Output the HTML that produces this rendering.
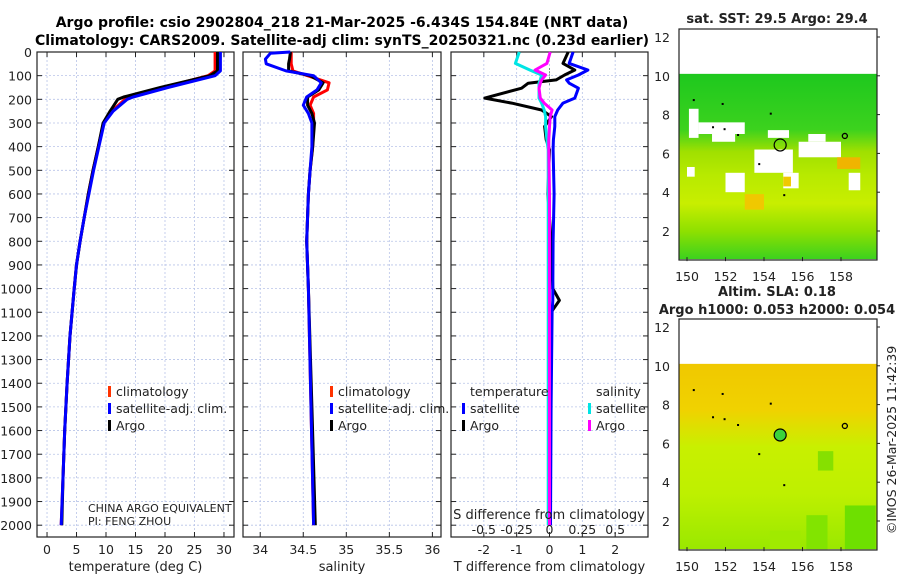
<!DOCTYPE html>
<html><head><meta charset="utf-8"><style>
html,body{margin:0;padding:0;background:#fff}
svg{display:block;font-family:"DejaVu Sans","Liberation Sans",sans-serif}
</style></head><body>
<svg id="fig" width="900" height="580" viewBox="0 0 900 580" xmlns="http://www.w3.org/2000/svg">
<text x="342" y="27" text-anchor="middle" font-size="14" font-weight="bold">Argo profile: csio 2902804_218 21-Mar-2025 -6.434S 154.84E (NRT data)</text>
<text x="342" y="45" text-anchor="middle" font-size="14" font-weight="bold">Climatology: CARS2009. Satellite-adj clim: synTS_20250321.nc (0.23d earlier)</text>
<g id="layer"></g>
</svg>
<script>
// ---- data ----
const tDepth=[0,80,100,150,190,200,250,300,400,500,600,700,800,900,1000,1200,1400,1600,1800,2000];
const argoT=[28.9,28.9,27.6,19.2,13.0,12.0,10.7,9.5,8.7,7.8,7.0,6.3,5.6,5.0,4.6,3.9,3.4,3.0,2.7,2.5];
const climT=[28.5,28.5,27.3,19.8,14.0,13.2,11.0,9.6,8.7,7.8,7.0,6.3,5.6,5.0,4.6,3.9,3.4,3.0,2.7,2.4];
const satT=[29.4,29.4,28.5,20.5,14.6,13.6,11.2,9.7,8.8,7.9,7.1,6.3,5.6,5.0,4.6,3.9,3.4,3.0,2.7,2.4];
const sDepth=[0,5,30,50,80,100,130,160,190,225,260,300,400,500,600,800,1000,1500,2000];
const argoS=[34.35,34.35,34.34,34.33,34.33,34.58,34.73,34.68,34.55,34.55,34.60,34.63,34.61,34.58,34.56,34.54,34.56,34.60,34.64];
const climS=[34.36,34.36,34.36,34.36,34.38,34.55,34.80,34.78,34.62,34.58,34.62,34.62,34.61,34.58,34.56,34.54,34.56,34.59,34.62];
const satS=[34.35,34.12,34.06,34.07,34.30,34.62,34.71,34.66,34.54,34.50,34.56,34.60,34.60,34.58,34.56,34.54,34.56,34.59,34.62];
const dDepth=[0,48,76,97,118,132,153,195,216,245,273,315,371,413,600,800,1000,1050,1100,1500,2000];
const dTargo=[0.57,0.41,0.77,0.46,0.2,-0.65,-0.85,-1.97,-1.15,-0.24,0.06,-0.15,-0.1,0,-0.05,0.05,0.1,0.3,0.05,0.02,0.0];
const dTsat=[0.72,0.6,1.17,0.88,0.52,0.6,0.88,0.77,0.41,0.25,0.16,0.16,0.12,0.11,0.14,0.11,0.1,0.1,0.08,0.05,0.03];
const dSsat=[-0.23,-0.26,-0.15,-0.06,-0.07,-0.08,-0.08,-0.08,-0.06,-0.04,-0.03,-0.03,-0.02,-0.01,-0.01,-0.01,-0.01,-0.01,-0.01,-0.01,-0.01];
const dSargo=[0.005,-0.02,-0.11,-0.03,-0.06,-0.07,-0.08,-0.07,-0.04,0.02,0.005,0,-0.005,-0.005,0,0,0,0,0,0,0];
const depthTicks=[0,100,200,300,400,500,600,700,800,900,1000,1100,1200,1300,1400,1500,1600,1700,1800,1900,2000];
const tTicks=[0,5,10,15,20,25,30];
const sTicks=[34,34.5,35,35.5,36];
const sTickLabels=["34","34.5","35","35.5","36"];
const dTTicks=[-2,-1,0,1,2];
const dSTicks=[-0.5,-0.25,0,0.25,0.5];
const dSTickLabels=["-0.5","-0.25","0","0.25","0.5"];
const lonTicks=[150,152,154,156,158];
const latTicks=[2,4,6,8,10,12];

const NS="http://www.w3.org/2000/svg";
const L=document.getElementById('layer');
function mk(tag,attrs,parent){const e=document.createElementNS(NS,tag);for(const k in attrs)e.setAttribute(k,attrs[k]);(parent||L).appendChild(e);return e;}
function txt(x,y,s,size,anchor,parent){const e=mk('text',{x:x,y:y,'font-size':size,'text-anchor':anchor||'middle',fill:'#222'},parent);e.textContent=s;return e;}

const TOP=52,BOT=537;
const yD=d=>TOP+d*0.2366;
function lin(d0,d1,r0,r1){return v=>r0+(v-d0)*(r1-r0)/(d1-d0);}
const xT=lin(-1.7,31.7,37,234);
const xS=lin(33.8,36.1,243,441);
const xDT=lin(-3,3,451,648);
const xDS=lin(-0.75,0.75,451,648);

function panel(x0,x1,name,ticks,fx,labels,xlabel){
  const g=mk('g',{});
  
  
  for(const d of depthTicks){const l=mk('line',{x1:x0,x2:x1,y1:yD(d),y2:yD(d),stroke:'#b8c4e8','stroke-width':0.8,'stroke-dasharray':'2,2'},g);}
  ticks.forEach((t,i)=>{
    const x=fx(t);
    mk('line',{x1:x,x2:x,y1:TOP,y2:BOT,stroke:'#b8c4e8','stroke-width':0.8,'stroke-dasharray':'2,2'},g);
    mk('line',{x1:x,x2:x,y1:BOT,y2:BOT-5,stroke:'#222'},g);
    mk('line',{x1:x,x2:x,y1:TOP,y2:TOP+5,stroke:'#222'},g);
    if(labels){const e=txt(x,554,labels[i],12.5,'middle',g);}
  });
  for(const d of depthTicks){mk('line',{x1:x0,x2:x0+5,y1:yD(d),y2:yD(d),stroke:'#222'},g);mk('line',{x1:x1,x2:x1-5,y1:yD(d),y2:yD(d),stroke:'#222'},g);}
  mk('rect',{x:x0,y:TOP,width:x1-x0,height:BOT-TOP,fill:'none',stroke:'#222','stroke-width':1.2},g);
  if(xlabel){const e=txt((x0+x1)/2,571,xlabel,13,'middle',g);}
  return g;
}
function series(fx,vals,depths,color,name){
  const pts=vals.map((v,i)=>fx(v).toFixed(1)+','+yD(depths[i]).toFixed(1)).join(' ');
  const p=mk('polyline',{points:pts,fill:'none',stroke:color,'stroke-width':3,'stroke-linejoin':'round'});
  
  
}
function legend(x,y,color,label){
  const g=mk('g',{});
  
  
  mk('rect',{x:x,y:y-10,width:3,height:11,fill:color},g);
  txt(x+8,y,label,12.5,'start',g);
}

panel(37,234,'temperature-panel',tTicks,xT,tTicks.map(String),'temperature (deg C)');
depthTicks.forEach(d=>{const e=txt(32,yD(d)+5,String(d),12.5,'end');});
series(xT,climT,tDepth,'#ff0000','climatology-temperature-line');
series(xT,argoT,tDepth,'#000000','argo-temperature-line');
series(xT,satT,tDepth,'#0000ff','satellite-temperature-line');
legend(108,396,'#ff3300','climatology');legend(108,413,'#0000ff','satellite-adj. clim.');legend(108,430,'#000000','Argo');
txt(88,512,'CHINA ARGO EQUIVALENT',11,'start');
txt(88,525,'PI: FENG ZHOU',11,'start');

panel(243,441,'salinity-panel',sTicks,xS,sTickLabels,'salinity');
series(xS,climS,sDepth,'#ff0000','climatology-salinity-line');
series(xS,argoS,sDepth,'#000000','argo-salinity-line');
series(xS,satS,sDepth,'#0000ff','satellite-salinity-line');
legend(330,396,'#ff3300','climatology');legend(330,413,'#0000ff','satellite-adj. clim.');legend(330,430,'#000000','Argo');

panel(451,648,'difference-panel',dTTicks,xDT,dTTicks.map(String),'T difference from climatology');
mk('line',{x1:xDT(0),x2:xDT(0),y1:yD(70),y2:yD(140),stroke:'#226622','stroke-dasharray':'1,2'});
series(xDT,dTargo,dDepth,'#000000','argo-t-diff-line');
series(xDT,dTsat,dDepth,'#0000ff','satellite-t-diff-line');
series(xDS,dSsat,dDepth,'#00e5e5','satellite-s-diff-line');
series(xDS,dSargo,dDepth,'#ff00ff','argo-s-diff-line');
txt(470,396,'temperature',12.5,'start');
txt(596,396,'salinity',12.5,'start');
legend(462,413,'#0000ff','satellite');legend(462,430,'#000000','Argo');
legend(588,413,'#00e5e5','satellite');legend(588,430,'#ff00ff','Argo');
txt(549,519,'S difference from climatology',13,'middle');
dSTicks.forEach((t,i)=>{const x=xDT(t*4);const e=txt(x,534,dSTickLabels[i],12.5,'middle');});

// ---- maps ----
const lonX=lin(150,158,687,841);
function latY(off){return lat=>37+off+(12-lat)*19.4;}
function mapFrame(off,name,title1,title2){
  const ly=latY(off);
  const g=mk('g',{});
  
  
  return {g,ly};
}
function drawMap(off,name,bands,patches,circleFill){
  const ly=latY(off);
  const g=mk('g',{});
  
  
  const id='grad'+off;
  const defs=mk('defs',{},g);
  const lg=mk('linearGradient',{id:id,x1:0,y1:0,x2:0,y2:1},defs);
  bands.forEach(b=>mk('stop',{offset:b[0],'stop-color':b[1]},lg));
  const x0=679,x1=877,top=ly(10.1),bot=ly(0.55);
  mk('rect',{x:x0,y:top,width:x1-x0,height:bot-top,fill:'url(#'+id+')'},g);
  patches.forEach(p=>mk('rect',{x:lonX(p[0]),y:ly(p[3]),width:lonX(p[1])-lonX(p[0]),height:ly(p[2])-ly(p[3]),fill:p[4]},g));
  [[151.3,7.4],[151.9,7.3],[152.6,7.0],[154.3,8.1],[153.7,5.5],[155,3.9],[150.3,8.8],[151.8,8.6]].forEach(c=>mk('rect',{x:lonX(c[0]),y:ly(c[1]),width:2,height:2,fill:'#000'},g));
  mk('circle',{cx:lonX(158.2),cy:ly(6.9),r:2.5,fill:'none',stroke:'#000','stroke-width':1.3},g);
  const c=mk('circle',{cx:lonX(154.84),cy:ly(6.434),r:6,fill:circleFill,stroke:'#000','stroke-width':1.2},g);
  
  
  lonTicks.forEach(t=>{mk('line',{x1:lonX(t),x2:lonX(t),y1:ly(0.5)+1,y2:ly(0.5)-3,stroke:'#222'},g);txt(lonX(t),ly(0.5)+21,String(t),12.5,'middle',g);});
  latTicks.forEach(t=>{mk('line',{x1:877,x2:880,y1:ly(t),y2:ly(t),stroke:'#222'},g);txt(670,ly(t)+5,String(t),12.5,'end',g);});
  mk('rect',{x:679,y:29+off,width:198,height:231,fill:'none',stroke:'#222','stroke-width':1.2},g);
}
drawMap(0,'sst-map',[[0,'#1ec81e'],[0.3,'#3cd21e'],[0.42,'#a0e000'],[0.55,'#b8ea00'],[0.7,'#c8ee00'],[0.85,'#8ee000'],[1,'#3cd21e']],
 [[150.1,150.6,6.8,8.3,'#fff'],[150.6,153.0,7.0,7.6,'#fff'],[151.3,152.5,6.6,7.0,'#fff'],[154.2,155.3,6.8,7.2,'#fff'],[153.5,155.5,5.0,6.2,'#fff'],[155.8,158.0,5.8,6.6,'#fff'],[156.3,157.2,6.6,7.0,'#fff'],[152.0,153.0,4.0,5.0,'#fff'],[155.0,155.8,4.2,5.0,'#fff'],[150.0,150.4,4.8,5.3,'#fff'],[158.4,159.0,4.1,5.0,'#fff'],[157.8,159.0,5.2,5.8,'#f0b400'],[153.0,154.0,3.1,3.9,'#f0c800'],[155.0,155.4,4.3,4.8,'#f0c800']],'none');
drawMap(290,'sla-map',[[0,'#f0c800'],[0.25,'#f0d200'],[0.45,'#c8f000'],[0.7,'#bef000'],[1,'#9ae800']],
 [[156.8,157.6,4.6,5.6,'#86e000'],[156.2,157.3,0.55,2.3,'#82e400'],[158.2,159.8,0.55,2.8,'#6ee000'],[154.3,155.9,0.55,1.5,'#a0ea00']],'#3cd23c');
txt(777,23,'sat. SST: 29.5 Argo: 29.4',13,'middle').setAttribute('font-weight','bold');
txt(777,296,'Altim. SLA: 0.18',13,'middle').setAttribute('font-weight','bold');
txt(777,314,'Argo h1000: 0.053 h2000: 0.054',13,'middle').setAttribute('font-weight','bold');
const stamp=txt(0,0,'©IMOS 26-Mar-2025 11:42:39',12.5,'middle');
stamp.setAttribute('transform','translate(896,440) rotate(-90)');


</script>
</body></html>
